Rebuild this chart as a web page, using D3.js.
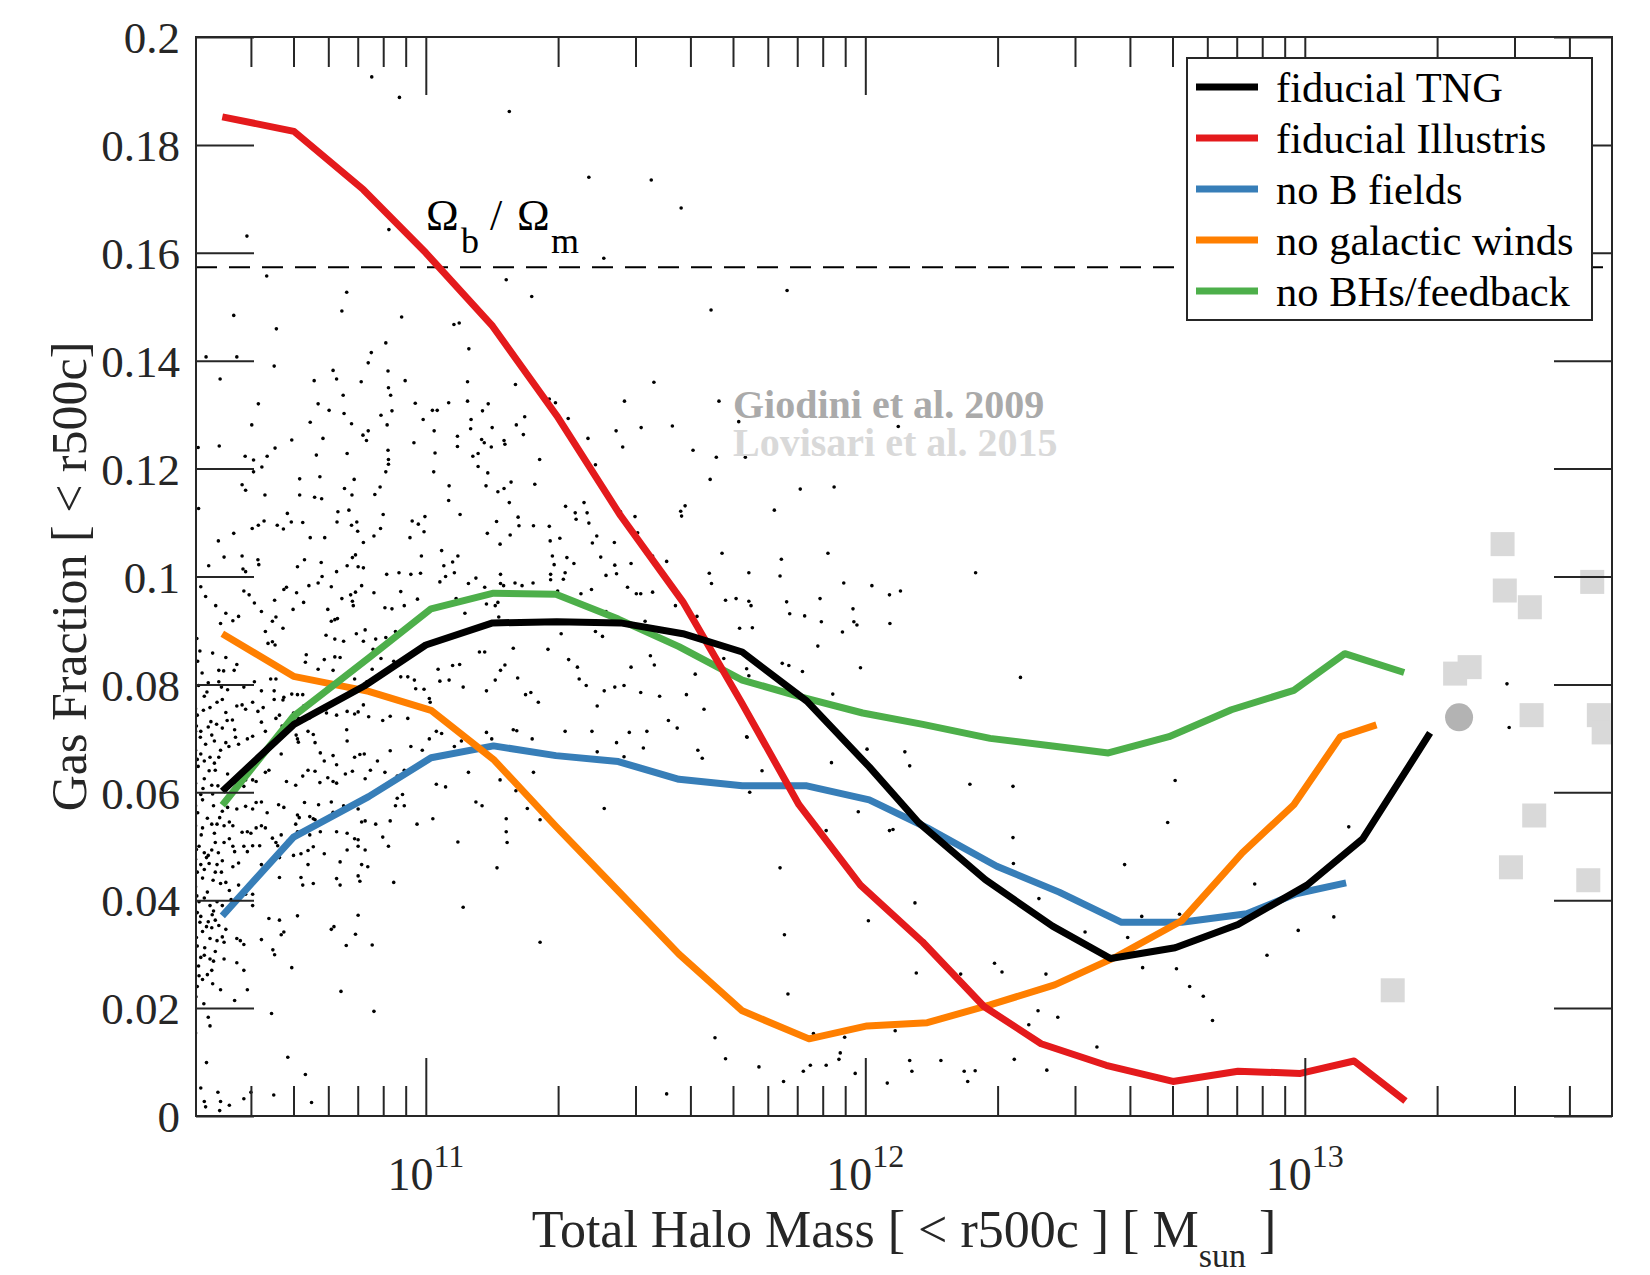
<!DOCTYPE html>
<html><head><meta charset="utf-8">
<script src="https://cdn.jsdelivr.net/npm/d3@7"></script>
<style>body{margin:0;background:#fff}svg{display:block}</style>
</head><body>
<svg id="chart" width="1650" height="1275"></svg>
<script>
// ---------------- DATA ----------------
const massDomain = [3e10, 5e13];
const fracDomain = [0, 0.2];
const yTickValues = [0, 0.02, 0.04, 0.06, 0.08, 0.1, 0.12, 0.14, 0.16, 0.18, 0.2];
const yTickLabels = ["0", "0.02", "0.04", "0.06", "0.08", "0.1", "0.12", "0.14", "0.16", "0.18", "0.2"];
const xMajorTicks = [1e11, 1e12, 1e13];
const xTickExponents = ["11", "12", "13"];
const xMinorTicks = [4e10,5e10,6e10,7e10,8e10,9e10,2e11,3e11,4e11,5e11,6e11,7e11,8e11,9e11,2e12,3e12,4e12,5e12,6e12,7e12,8e12,9e12,2e13,3e13,4e13];
const baryonFraction = 0.1573;

const seriesNames = ["fiducial TNG", "fiducial Illustris", "no B fields", "no galactic winds", "no BHs/feedback"];
const seriesColors = ["#000000", "#e41a1c", "#377eb8", "#ff7f00", "#4daf4a"];

// log10(M500c / Msun) and gas fraction for each run
const tngLogM = [10.537,10.700,10.860,11.000,11.152,11.298,11.443,11.585,11.720,11.867,12.009,12.121,12.273,12.426,12.558,12.705,12.848,13.005,13.132,13.285];
const tngFrac = [0.0602,0.0726,0.0797,0.0873,0.0914,0.0916,0.0914,0.0894,0.0860,0.0769,0.0647,0.0544,0.0438,0.0352,0.0292,0.0312,0.0355,0.0428,0.0514,0.0710];
const illLogM = [10.537,10.700,10.858,11.000,11.152,11.298,11.443,11.585,11.718,11.849,11.989,12.131,12.270,12.400,12.548,12.700,12.848,12.990,13.112,13.229];
const illFrac = [0.1852,0.1825,0.1717,0.1600,0.1464,0.1298,0.1113,0.0953,0.0767,0.0577,0.0428,0.0322,0.0203,0.0134,0.0094,0.0064,0.0083,0.0079,0.0102,0.0028];
const noBLogM = [10.537,10.699,10.870,11.012,11.154,11.296,11.438,11.576,11.720,11.867,12.009,12.141,12.299,12.441,12.583,12.720,12.868,12.980,13.094];
const noBFrac = [0.0371,0.0517,0.0592,0.0664,0.0686,0.0668,0.0657,0.0624,0.0612,0.0612,0.0586,0.0534,0.0463,0.0415,0.0359,0.0359,0.0375,0.0412,0.0432];
const noWindLogM = [10.537,10.699,10.870,11.012,11.154,11.296,11.438,11.576,11.720,11.872,12.004,12.141,12.284,12.431,12.573,12.720,12.858,12.975,13.081,13.163];
const noWindFrac = [0.0894,0.0815,0.0787,0.0752,0.0661,0.0537,0.0417,0.0300,0.0195,0.0143,0.0167,0.0173,0.0206,0.0243,0.0296,0.0362,0.0488,0.0577,0.0703,0.0725];
const noBHLogM = [10.537,10.699,10.870,11.012,11.154,11.296,11.438,11.576,11.720,11.857,11.994,12.131,12.284,12.426,12.553,12.691,12.833,12.975,13.091,13.226];
const noBHFrac = [0.0576,0.0741,0.0849,0.0940,0.0969,0.0967,0.0921,0.0870,0.0808,0.0776,0.0747,0.0726,0.0700,0.0686,0.0673,0.0703,0.0753,0.0789,0.0857,0.0822];

// observations
const lovisariPoints = [[13.450,0.1060],[13.455,0.0974],[13.512,0.0943],[13.654,0.0990],[13.375,0.0832],[13.342,0.0820],[13.516,0.0743],[13.669,0.0743],[13.680,0.0711],[13.522,0.0557],[13.469,0.0461],[13.645,0.0437],[13.200,0.0233]];
const giodiniPoints = [[13.351,0.0739]];

// individual halos of the fiducial TNG run: [log10 M, f_gas]
const haloPoints = [
[10.877,.1926],[10.940,.1888],[11.190,.1862],[11.371,.1740],[11.513,.1735],[11.581,.1683],[10.865,.1714],[10.916,.1643],[10.593,.1631],[11.405,.1590],
[10.638,.1557],[11.183,.1550],[11.241,.1519],[10.820,.1527],[10.809,.1492],[10.945,.1481],[10.563,.1484],[10.660,.1459],[11.064,.1467],[11.076,.1470],
[11.649,.1494],[11.098,.1422],[10.909,.1433],[10.876,.1415],[10.869,.1396],[10.500,.1407],[10.570,.1407],[10.655,.1390],[10.532,.1366],[10.746,.1363],
[10.789,.1382],[10.797,.1366],[10.853,.1361],[10.914,.1381],[10.953,.1363],[11.095,.1361],[11.204,.1356],[11.519,.1360],[10.619,.1320],[10.755,.1320],
[10.812,.1336],[10.915,.1350],[10.920,.1336],[10.976,.1321],[11.015,.1308],[11.026,.1308],[11.052,.1322],[11.095,.1325],[11.142,.1320],[11.281,.1329],
[11.295,.1322],[11.452,.1325],[11.667,.1325],[10.780,.1308],[10.814,.1302],[10.923,.1307],[10.898,.1299],[10.994,.1291],[11.103,.1291],[11.129,.1307],
[11.225,.1296],[11.324,.1293],[10.604,.1281],[10.737,.1286],[10.831,.1283],[10.912,.1281],[11.102,.1274],[11.151,.1276],[11.206,.1281],[11.490,.1276],
[11.561,.1279],[11.433,.1270],[10.695,.1253],[10.766,.1256],[10.857,.1262],[10.865,.1252],[10.869,.1270],[10.973,.1248],[11.019,.1270],[11.072,.1260],
[11.072,.1241],[11.127,.1254],[11.133,.1248],[11.149,.1240],[11.178,.1252],[11.180,.1245],[11.222,.1263],[11.369,.1256],[11.448,.1240],[11.712,.1287],
[10.482,.1239],[10.530,.1242],[10.589,.1223],[10.608,.1216],[10.608,.1194],[10.627,.1203],[10.639,.1223],[10.657,.1238],[10.751,.1225],[10.821,.1228],
[10.914,.1234],[10.915,.1217],[10.915,.1208],[10.909,.1194],[11.018,.1194],[11.021,.1229],[11.107,.1223],[11.119,.1228],[11.119,.1204],[11.141,.1192],
[11.259,.1217],[11.386,.1207],[11.608,.1234],[11.661,.1221],[11.727,.1221],[11.647,.1180],[10.582,.1170],[10.590,.1160],[10.634,.1151],[10.713,.1181],
[10.759,.1185],[10.713,.1151],[10.747,.1147],[10.763,.1144],[10.815,.1163],[10.837,.1180],[10.832,.1151],[10.884,.1152],[10.896,.1166],[11.053,.1168],
[11.052,.1141],[11.137,.1168],[11.164,.1157],[11.178,.1163],[11.194,.1175],[11.248,.1171],[11.318,.1130],[11.340,.1118],[11.342,.1106],[11.360,.1137],
[11.367,.1118],[11.371,.1099],[11.443,.1120],[11.476,.1111],[11.580,.1121],[11.582,.1112],[11.590,.1131],[11.190,.1137],[11.210,.1110],[11.212,.1094],
[10.483,.1126],[10.528,.1066],[10.563,.1080],[10.605,.1089],[10.619,.1095],[10.632,.1103],[10.662,.1095],[10.676,.1088],[10.685,.1117],[10.694,.1101],
[10.720,.1100],[10.737,.1072],[10.770,.1072],[10.798,.1101],[10.800,.1120],[10.825,.1123],[10.831,.1095],[10.843,.1101],[10.845,.1084],[10.858,.1063],
[10.882,.1075],[10.897,.1089],[10.903,.1115],[10.964,.1072],[10.969,.1103],[10.983,.1097],[10.996,.1083],[10.998,.1111],[11.078,.1115],[11.140,.1080],
[11.161,.1102],[11.169,.1060],[11.192,.1077],[11.245,.1094],[11.281,.1093],[11.283,.1066],[11.305,.1071],[11.379,.1062],[11.389,.1075],[11.429,.1063],
[11.482,.1081],[11.822,.1530],[12.075,.1278],[11.852,.1162],[11.929,.1166],[11.793,.1123],[11.809,.1032],[11.915,.1043],
[10.541,.1036],[10.582,.1038],[10.618,.1031],[10.620,.1022],[10.506,.1020],[10.724,.1031],[10.708,.1018],[10.762,.1026],[10.840,.1040],[10.833,.1035],
[10.821,.1020],[10.846,.1018],[10.858,.1016],[10.797,.1009],[10.911,.1004],[10.939,.1007],[10.966,.1004],[10.988,.1006],[10.990,.1038],[11.036,.1048],
[11.073,.1038],[11.061,.1027],[11.041,.1020],[11.065,.1007],[11.288,.1038],[11.292,.1022],[11.321,.1035],[11.337,.1024],[11.398,.1036],[11.430,.1021],
[11.467,.1024],[11.516,.1038],[11.548,.1028],[11.410,.1002],[11.434,.1005],[11.317,.1007],[11.284,.1004],[11.674,.1043],[11.645,.1006],[11.170,.1004],
[10.590,.1009],[10.584,.1014],
[10.488,.0981],[10.499,.0963],[10.522,.0946],[10.533,.0913],[10.545,.0932],[10.561,.0918],[10.574,.0926],[10.586,.0973],[10.598,.0966],[10.610,.0951],
[10.626,.0935],[10.635,.0898],[10.656,.0956],[10.659,.0925],[10.651,.0917],[10.677,.0976],[10.683,.0980],[10.675,.0904],[10.698,.0939],[10.706,.0970],
[10.722,.0952],[10.734,.0983],[10.755,.0988],[10.764,.1000],[10.785,.0981],[10.777,.0939],[10.793,.0920],[10.785,.0917],[10.799,.0922],[10.809,.0959],
[10.829,.0966],[10.833,.0954],[10.835,.0946],[10.840,.0971],[10.854,.0983],[10.882,.0970],[10.862,.0901],[10.907,.0942],[10.923,.0940],[10.951,.0946],
[10.943,.0972],[10.981,.0958],[11.032,.0990],[11.045,.1000],[11.069,.0959],[11.089,.0932],[11.097,.0987],[11.114,.0997],[11.134,.0980],[11.138,.0949],
[11.158,.0946],[11.164,.0952],[11.166,.0925],[11.170,.0987],[11.177,.0983],[11.203,.0988],[11.219,.0983],[11.244,.0988],[11.284,.0994],[11.300,.0973],
[11.313,.0995],[11.353,.0968],[11.377,.0976],[11.386,.0898],[11.402,.0889],[11.410,.0935],[11.459,.0980],[11.479,.0968],[11.489,.0968],[11.499,.0917],
[11.516,.0971],[11.568,.0946],[11.617,.0926],[11.650,.0987],[11.682,.0956],[11.706,.0959],[11.714,.0904],[10.773,.0891],[10.793,.0884],[10.813,.0880],
[10.842,.0894],[10.858,.0880],[10.886,.0884],[10.909,.0887],[10.931,.0898],[10.641,.0876],[10.651,.0879],[10.657,.0873],[10.542,.0892],[10.515,.0858],
[10.481,.0843],
[10.545,.0850],[10.570,.0837],[10.529,.0826],[10.540,.0825],[10.564,.0826],[10.505,.0803],[10.535,.0795],[10.549,.0790],[10.586,.0795],[10.610,.0805],
[10.647,.0810],[10.659,.0810],[10.626,.0788],[10.655,.0788],[10.677,.0776],[10.695,.0782],[10.708,.0781],[10.720,.0781],[10.728,.0855],[10.726,.0841],
[10.755,.0828],[10.789,.0826],[10.793,.0851],[10.769,.0846],[10.805,.0850],[10.825,.0822],[10.838,.0810],[10.866,.0805],[10.878,.0828],[10.880,.0865],
[10.898,.0848],[10.927,.0843],[10.943,.0814],[10.959,.0814],[10.974,.0808],[10.977,.0792],[10.996,.0791],[11.008,.0774],[11.010,.0767],[11.028,.0828],
[11.032,.0806],[11.053,.0808],[11.061,.0835],[11.077,.0837],[11.085,.0795],[11.122,.0860],[11.134,.0860],[11.138,.0788],[11.158,.0808],[11.170,.0826],
[11.180,.0836],[11.199,.0867],[11.209,.0812],[11.227,.0781],[11.239,.0785],[11.256,.0767],[11.278,.0865],[11.308,.0894],[11.325,.0846],[11.345,.0832],
[11.349,.0810],[11.365,.0798],[11.390,.0760],[11.406,.0788],[11.430,.0795],[11.451,.0798],[11.467,.0832],[11.489,.0785],[11.511,.0853],[11.520,.0836],
[11.532,.0778],[11.593,.0781],[11.613,.0819],[11.633,.0754],[11.678,.0848],[11.731,.0747],[10.474,.0767],[10.476,.0755],[10.496,.0778],[10.509,.0757],
[10.525,.0767],[10.537,.0772],[10.545,.0748],[10.560,.0734],[10.570,.0760],[10.582,.0762],[10.590,.0754],[10.606,.0767],[10.618,.0750],[10.630,.0757],
[10.655,.0772],[10.675,.0771],[10.667,.0743],[10.699,.0747],[10.710,.0737],[10.722,.0760],[10.736,.0738],[10.740,.0767],[10.773,.0754],[10.774,.0747],
[10.797,.0743],[10.821,.0750],[10.838,.0745],[10.846,.0749],[10.858,.0762],[10.870,.0740],[10.902,.0733],[10.919,.0741],[10.959,.0737],[10.480,.0743],
[10.476,.0713],[10.478,.0723],[10.488,.0713],[10.505,.0721],[10.513,.0706],[10.519,.0695],[10.537,.0719],[10.548,.0733],[10.565,.0716],[10.567,.0702],
[10.545,.0692],[10.533,.0678],[10.552,.0685],[10.574,.0689],[10.594,.0699],[10.606,.0704],[10.626,.0730],[10.635,.0713],[10.659,.0737],[10.673,.0723],
[10.705,.0706],[10.708,.0699],[10.710,.0693],[10.732,.0713],[10.744,.0707],[10.748,.0692],[10.760,.0673],[10.748,.0639],[10.769,.0658],[10.789,.0668],
[10.797,.0651],[10.820,.0716],[10.821,.0695],[10.838,.0665],[10.850,.0670],[10.860,.0671],[10.874,.0641],[10.890,.0658],[10.907,.0637],[10.919,.0677],
[10.935,.0630],[10.951,.0641],[10.966,.0685],[10.992,.0678],[11.008,.0699],[11.024,.0713],[11.036,.0709],[11.065,.0685],[11.081,.0695],[11.097,.0637],
[11.138,.0711],[11.150,.0699],[11.162,.0651],[11.169,.0623],[11.205,.0603],[11.199,.0716],[11.207,.0714],[11.245,.0637],[11.242,.0699],[11.317,.0713],
[11.378,.0713],[11.390,.0675],[11.434,.0692],[11.451,.0666],[11.463,.0711],[11.495,.0682],[11.503,.0713],[11.552,.0733],[11.572,.0719],[11.619,.0678],
[11.629,.0663],[11.731,.0702],[10.476,.0678],[10.480,.0661],[10.488,.0671],[10.496,.0658],[10.509,.0665],[10.519,.0654],[10.529,.0665],[10.521,.0641],
[10.549,.0634],[10.570,.0617],[10.586,.0611],[10.590,.0623],[10.606,.0623],[10.614,.0620],[10.635,.0637],[10.643,.0641],[10.671,.0671],[10.683,.0620],
[10.704,.0613],[10.720,.0630],[10.732,.0641],[10.759,.0618],[10.777,.0627],[10.789,.0620],[10.797,.0617],[10.817,.0634],[10.833,.0639],[10.862,.0625],
[10.935,.0589],[10.947,.0596],[11.024,.0615],[11.045,.0610],[10.496,.0625],[10.513,.0613],[10.476,.0617],[10.488,.0596],[10.545,.0604],
[10.476,.0575],[10.492,.0586],[10.517,.0575],[10.537,.0565],[10.549,.0572],[10.570,.0569],[10.590,.0574],[10.606,.0569],[10.614,.0581],[10.626,.0582],
[10.639,.0562],[10.665,.0577],[10.677,.0572],[10.708,.0558],[10.712,.0553],[10.724,.0581],[10.736,.0555],[10.744,.0551],[10.748,.0549],[10.756,.0577],
[10.785,.0582],[10.789,.0563],[10.813,.0575],[10.846,.0569],[10.854,.0545],[10.862,.0547],[10.886,.0541],[10.919,.0547],[10.931,.0575],[10.951,.0575],
[10.980,.0541],[11.016,.0551],[11.114,.0582],[11.128,.0575],[11.183,.0551],[11.231,.0570],[11.260,.0549],[11.406,.0570],[10.476,.0538],[10.492,.0534],
[10.513,.0541],[10.525,.0541],[10.541,.0538],[10.553,.0545],[10.561,.0538],[10.582,.0526],[10.594,.0527],[10.602,.0524],[10.614,.0534],[10.626,.0538],
[10.635,.0534],[10.651,.0515],[10.663,.0501],[10.671,.0521],[10.687,.0510],[10.704,.0541],[10.708,.0527],[10.724,.0527],[10.736,.0521],[10.760,.0527],
[10.797,.0527],[10.821,.0524],[10.838,.0514],[10.846,.0512],[10.862,.0493],[10.902,.0517],[10.915,.0500],[11.073,.0508],[11.183,.0527],[11.185,.0507],
[10.484,.0500],[10.496,.0488],[10.501,.0479],[10.513,.0493],[10.521,.0507],[10.541,.0507],[10.553,.0514],[10.561,.0500],[10.565,.0490],[10.586,.0500],
[10.594,.0490],[10.606,.0501],[10.622,.0501],[10.659,.0507],[10.699,.0483],[10.716,.0486],[10.732,.0492],[10.744,.0499],[10.769,.0486],[10.805,.0471],
[10.821,.0493],[10.846,.0500],[10.476,.0476],[10.488,.0466],[10.505,.0483],[10.525,.0466],[10.537,.0473],[10.561,.0462],[10.574,.0469],[10.626,.0466],
[10.667,.0479],[10.732,.0466],[10.854,.0466],[10.868,.0462],[11.162,.0460],
[10.480,.0452],[10.496,.0457],[10.521,.0452],[10.533,.0431],[10.545,.0433],[10.553,.0418],[10.574,.0428],[10.590,.0411],[10.606,.0411],[10.667,.0442],
[10.716,.0442],[10.720,.0428],[10.744,.0431],[10.797,.0440],[10.805,.0428],[10.846,.0445],[10.850,.0435],[10.927,.0433],[10.476,.0425],[10.484,.0397],
[10.496,.0404],[10.509,.0390],[10.517,.0380],[10.537,.0390],[10.557,.0401],[10.606,.0390],[10.643,.0366],[10.667,.0363],[10.708,.0371],[10.480,.0377],
[10.488,.0370],[10.505,.0360],[10.513,.0349],[10.521,.0363],[10.529,.0353],[10.537,.0332],[10.545,.0346],[10.492,.0342],[10.501,.0351],[10.509,.0329],
[10.525,.0325],[10.541,.0322],[10.570,.0329],[10.578,.0325],[10.586,.0318],[10.671,.0336],[10.677,.0341],[10.785,.0346],[10.791,.0351],[10.819,.0316],
[10.840,.0337],[10.846,.0372],[10.878,.0317],[11.085,.0387],[11.260,.0322],[10.480,.0315],
[10.488,.0294],[10.496,.0298],[10.509,.0291],[10.517,.0287],[10.541,.0291],[10.570,.0284],[10.586,.0270],[10.513,.0270],[10.484,.0260],[10.492,.0253],
[10.480,.0240],[10.533,.0234],[10.565,.0214],[10.594,.0234],[10.626,.0327],[10.652,.0308],[10.656,.0299],[10.695,.0275],[10.807,.0231],[10.649,.0190],
[10.882,.0194],[10.505,.0183],[10.509,.0167],[10.476,.0154],[10.501,.0099],[10.686,.0109],[10.726,.0077],[10.488,.0052],[10.527,.0044],[10.496,.0027],
[10.499,.0017],[10.533,.0027],[10.531,.0010],[10.553,.0020],[10.586,.0032],[10.654,.0039],[10.740,.0025],[10.602,.0044],[11.658,.0145],[11.682,.0106],
[11.548,.0041],
[10.479,.0885],[10.486,.0862],[10.491,.0821],[10.483,.0798],[10.502,.0786],[10.494,.0752],[10.511,.0731],[10.487,.0702],[10.499,.0689],[10.482,.0648],
[10.507,.0640],[10.493,.0607],[10.515,.0597],[10.481,.0562],[10.503,.0552],[10.489,.0521],[10.519,.0524],[10.478,.0494],[10.507,.0468],[10.492,.0441],
[10.516,.0437],[10.479,.0408],[10.503,.0415],[10.486,.0359],[10.514,.0373],[10.478,.0331],[10.497,.0312],[10.521,.0305],[10.483,.0278],[10.503,.0262],
[10.477,.0221],[10.495,.0208],[10.515,.0245],[10.527,.0612],[10.531,.0553],[10.528,.0488],[10.525,.0397],[10.535,.0452],[10.524,.0726],[10.529,.0805],
[11.735,.1007],[11.806,.1001],[12.251,.1007],[11.951,.0988],[12.015,.0983],[12.055,.0966],[12.080,.0973],[11.735,.0954],[11.740,.0946],[11.821,.0953],
[11.897,.0959],[11.828,.0931],[11.862,.0927],[11.900,.0916],[11.972,.0940],[11.948,.0897],[11.974,.0916],[11.981,.0910],[12.056,.0913],[11.892,.0871],
[11.743,.0905],[11.811,.0839],[11.826,.0835],[11.857,.0824],[11.989,.0831],[11.730,.0829],[11.735,.0816],[12.353,.0813],[11.926,.0782],[11.730,.0703],
[12.004,.0680],[12.090,.0675],[12.101,.0649],[11.923,.0655],[11.765,.0640],[12.238,.0615],[12.336,.0611],[12.705,.0622],[11.737,.0600],[11.984,.0564],
[11.911,.0529],[12.055,.0529],[12.063,.0531],[12.688,.0544],[12.336,.0516],[11.806,.0460],[12.337,.0468],[12.590,.0466],[13.100,.0536],[12.886,.0430],
[12.395,.0403],[12.113,.0395],[12.629,.0370],[12.715,.0374],[13.066,.0369],[12.007,.0362],[11.816,.0336],[12.500,.0341],[12.597,.0331],[12.985,.0344],
[12.914,.0298],[12.134,.0324],[12.184,.0279],[12.294,.0283],[12.311,.0267],[12.116,.0265],[12.217,.0263],[12.411,.0263],[12.631,.0275],[12.708,.0273],
[12.738,.0240],[12.769,.0222],[11.824,.0226],[12.790,.0177],[12.393,.0195],[12.438,.0183],[12.372,.0169],[12.068,.0158],[11.882,.0153],[11.953,.0146],
[11.758,.0091],[11.814,.0064],[11.859,.0083],[11.875,.0094],[11.911,.0094],[11.940,.0105],[11.943,.0117],[11.977,.0079],[12.101,.0103],[12.106,.0083],
[12.172,.0103],[12.225,.0083],[12.250,.0084],[12.233,.0064],[12.050,.0061],[12.339,.0105],[12.413,.0085],[12.527,.0128],
[13.460,.0801],[13.465,.0720]
];

// ---------------- DRAWING ----------------
const W = 1650, H = 1275, L = 196, R = 1612, T = 37, B = 1116;
const FONT = '"Liberation Serif","Times New Roman",Times,serif';
const AXC = '#262626';
const svg = d3.select('#chart').attr('font-family', FONT);
const x = d3.scaleLog().domain(massDomain).range([L, R]);
const y = d3.scaleLinear().domain(fracDomain).range([B, T]);
const mx = lm => x(Math.pow(10, lm));

svg.append('rect').attr('width', W).attr('height', H).attr('fill', '#fff');
svg.append('defs').append('clipPath').attr('id', 'plotclip')
  .append('rect').attr('x', L).attr('y', T).attr('width', R - L).attr('height', B - T);
const plot = svg.append('g').attr('clip-path', 'url(#plotclip)');

// halos
plot.append('g').selectAll('circle').data(haloPoints).join('circle')
  .attr('cx', d => mx(d[0])).attr('cy', d => y(d[1])).attr('r', 1.8).attr('fill', '#000');

// baryon fraction
plot.append('line').attr('x1', L).attr('x2', R)
  .attr('y1', y(baryonFraction)).attr('y2', y(baryonFraction))
  .attr('stroke', '#000').attr('stroke-width', 2).attr('stroke-dasharray', '21 12');

// observations
plot.append('g').selectAll('rect').data(lovisariPoints).join('rect')
  .attr('x', d => mx(d[0]) - 12).attr('y', d => y(d[1]) - 12)
  .attr('width', 24).attr('height', 24).attr('fill', '#d9d9d9');
plot.append('g').selectAll('circle').data(giodiniPoints).join('circle')
  .attr('cx', d => mx(d[0])).attr('cy', d => y(d[1])).attr('r', 14).attr('fill', '#b3b3b3');

// median lines
const seriesData = [
  d3.zip(tngLogM, tngFrac), d3.zip(illLogM, illFrac), d3.zip(noBLogM, noBFrac),
  d3.zip(noWindLogM, noWindFrac), d3.zip(noBHLogM, noBHFrac)
];
const lineGen = d3.line().x(d => mx(d[0])).y(d => y(d[1]));
const drawOrder = [2, 3, 4, 1, 0];
drawOrder.forEach(i => {
  plot.append('path').datum(seriesData[i]).attr('d', lineGen)
    .attr('fill', 'none').attr('stroke', seriesColors[i]).attr('stroke-width', 7)
    .attr('stroke-linejoin', 'round');
});

// annotations
const om = svg.append('text').attr('y', 230).attr('font-size', 44).attr('fill', '#000');
om.append('tspan').attr('x', 426).text('\u03A9');
om.append('tspan').attr('x', 461).attr('dy', 23).attr('font-size', 36).text('b');
om.append('tspan').attr('x', 490).attr('dy', -23).text('/');
om.append('tspan').attr('x', 517).text('\u03A9');
om.append('tspan').attr('x', 551).attr('dy', 23).attr('font-size', 36).text('m');

svg.append('text').attr('x', 733).attr('y', 418).attr('font-size', 40).attr('font-weight', 'bold')
  .attr('fill', '#aaaaaa').text('Giodini et al. 2009');
svg.append('text').attr('x', 733).attr('y', 456).attr('font-size', 40).attr('font-weight', 'bold')
  .attr('fill', '#d9d9d9').text('Lovisari et al. 2015');

// axes
function styleAxis(g) {
  g.select('.domain').remove();
  g.selectAll('.tick line').attr('stroke', AXC).attr('stroke-width', 2);
}
svg.append('g').attr('transform', `translate(0,${B})`)
  .call(d3.axisBottom(x).tickValues(xMinorTicks).tickSize(-30).tickFormat('')).call(styleAxis);
svg.append('g').attr('transform', `translate(0,${B})`)
  .call(d3.axisBottom(x).tickValues(xMajorTicks).tickSize(-58).tickFormat('')).call(styleAxis);
svg.append('g').attr('transform', `translate(0,${T})`)
  .call(d3.axisTop(x).tickValues(xMinorTicks).tickSize(-30).tickFormat('')).call(styleAxis);
svg.append('g').attr('transform', `translate(0,${T})`)
  .call(d3.axisTop(x).tickValues(xMajorTicks).tickSize(-58).tickFormat('')).call(styleAxis);

const yl = svg.append('g').attr('transform', `translate(${L},0)`)
  .call(d3.axisLeft(y).tickValues(yTickValues).tickSize(-58).tickPadding(16)
    .tickFormat((d, i) => yTickLabels[i])).call(styleAxis);
yl.attr('font-family', FONT).attr('font-size', 45);
yl.selectAll('.tick text').attr('fill', AXC).attr('dy', '0.35em');
svg.append('g').attr('transform', `translate(${R},0)`)
  .call(d3.axisRight(y).tickValues(yTickValues).tickSize(-58).tickFormat('')).call(styleAxis);

// x tick labels 10^n
xMajorTicks.forEach((v, i) => {
  const t = svg.append('text').attr('x', x(v)).attr('y', 1190).attr('text-anchor', 'middle')
    .attr('font-size', 46).attr('fill', AXC);
  t.append('tspan').text('10');
  t.append('tspan').attr('dy', -23).attr('font-size', 32).text(xTickExponents[i]);
});

// frame
svg.append('rect').attr('x', L).attr('y', T).attr('width', R - L).attr('height', B - T)
  .attr('fill', 'none').attr('stroke', AXC).attr('stroke-width', 2);

// axis labels
const xl = svg.append('text').attr('x', (L + R) / 2).attr('y', 1247).attr('text-anchor', 'middle')
  .attr('font-size', 52).attr('fill', AXC);
xl.append('tspan').text('Total Halo Mass [ < r500c ] [ M');
xl.append('tspan').attr('dy', 20).attr('font-size', 34).text('sun');
xl.append('tspan').attr('dy', -20).text(' ]');

svg.append('text').attr('transform', `translate(86,${(T + B) / 2}) rotate(-90)`)
  .attr('text-anchor', 'middle').attr('font-size', 50).attr('fill', AXC)
  .text('Gas Fraction [ < r500c]');

// legend
const lg = svg.append('g');
lg.append('rect').attr('x', 1187).attr('y', 58).attr('width', 405).attr('height', 262)
  .attr('fill', '#fff').attr('stroke', AXC).attr('stroke-width', 2);
seriesNames.forEach((name, i) => {
  const yy = 87 + i * 51;
  lg.append('line').attr('x1', 1196).attr('x2', 1258).attr('y1', yy).attr('y2', yy)
    .attr('stroke', seriesColors[i]).attr('stroke-width', 7);
  lg.append('text').attr('x', 1276).attr('y', yy + 15).attr('font-size', 42.5).attr('fill', '#000').text(name);
});
</script>
</body></html>
